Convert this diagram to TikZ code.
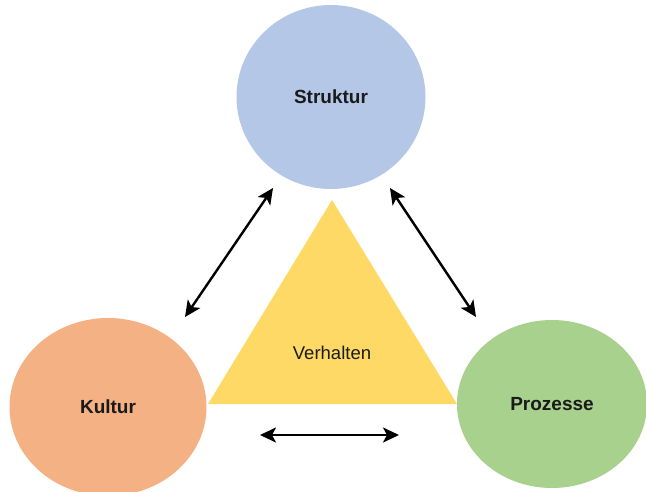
\documentclass[tikz,border=0pt]{standalone}
\usepackage{fontspec}
\setmainfont{Liberation Sans}
\usetikzlibrary{shapes.geometric,arrows.meta}
\definecolor{cblue}{HTML}{B4C7E7}
\definecolor{corange}{HTML}{F4B183}
\definecolor{cgreen}{HTML}{A9D18E}
\definecolor{cyellow}{HTML}{FFD966}
\definecolor{ctext}{HTML}{1A1A1A}
\tikzset{
  blob/.style={ellipse, draw=none, inner sep=0pt, text=ctext,
    font=\fontsize{19}{22}\selectfont\bfseries},
  link/.style={line width=2.4pt, {Stealth[length=16pt,width=15pt,inset=4pt]}-{Stealth[length=16pt,width=15pt,inset=4pt]}},
  tri/.style={fill=cyellow},
  tlabel/.style={text=ctext, font=\fontsize{18.5}{21}\selectfont}
}
\begin{document}
\begin{tikzpicture}[x=1pt,y=-1pt]
\useasboundingbox (0,0) rectangle (646,492);
\fill[white] (0,0) rectangle (646,492);
\node[blob, fill=cblue, minimum width=189pt, minimum height=184pt] (struktur) at (331,97) {Struktur};
\node[blob, fill=corange, minimum width=197pt, minimum height=178pt] (kultur) at (108,407) {Kultur};
\node[blob, fill=cgreen, minimum width=190pt, minimum height=168pt] (prozesse) at (552,404) {Prozesse};
\fill[tri] (332,200) -- (208,404) -- (457,404) -- cycle;
\node[tlabel] (verhalten) at (332,353) {Verhalten};
\coordinate (a1) at (185,317);
\coordinate (a2) at (273,188);
\coordinate (b1) at (390,188);
\coordinate (b2) at (476,317);
\coordinate (c1) at (260,435);
\coordinate (c2) at (399,435);
\draw[link] (a1) -- (a2);
\draw[link] (b1) -- (b2);
\draw[link] (c1) -- (c2);
\end{tikzpicture}
\end{document}
